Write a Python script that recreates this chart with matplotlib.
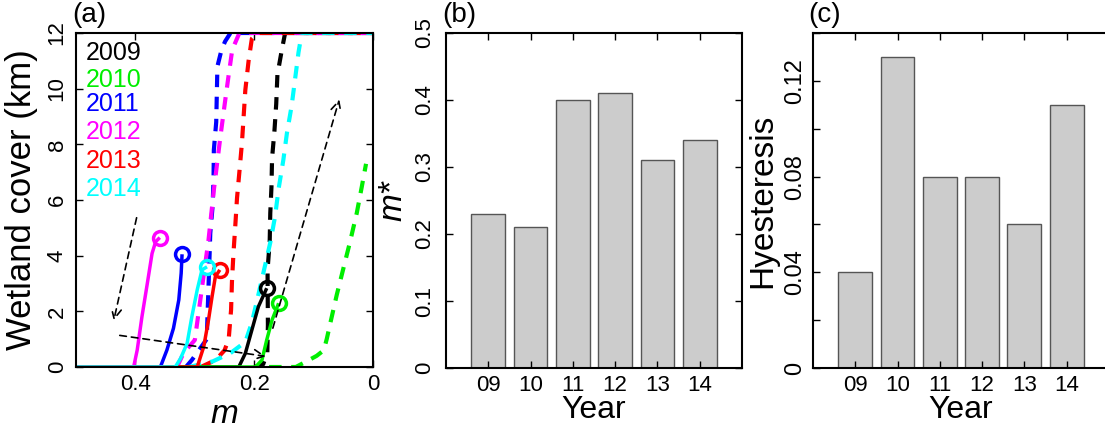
import numpy as np
import matplotlib
matplotlib.use("Agg")
import matplotlib.pyplot as plt

plt.rcParams['font.family'] = ['Liberation Sans', 'DejaVu Sans']
plt.rcParams['xtick.direction'] = 'in'
plt.rcParams['ytick.direction'] = 'in'

# ---- panel (a): wetland cover vs m ----
years = ['2009', '2010', '2011', '2012', '2013', '2014']
colors = ['#000000', '#00ee00', '#0000ff', '#ff00ff', '#ff0000', '#00ffff']

# forward (solid) branches, m then cover
solid_m = {
    '2009': [0.5, 0.226, 0.215, 0.204, 0.193, 0.179],
    '2010': [0.5, 0.198, 0.187, 0.179, 0.170, 0.159],
    '2011': [0.5, 0.358, 0.347, 0.336, 0.327, 0.323, 0.3215],
    '2012': [0.5, 0.403, 0.397, 0.389, 0.380, 0.372, 0.366, 0.359],
    '2013': [0.5, 0.296, 0.285, 0.277, 0.271, 0.2655, 0.258],
    '2014': [0.5, 0.333, 0.324, 0.313, 0.305, 0.296, 0.288, 0.2795],
}
solid_w = {
    '2009': [0, 0, 0.49, 1.33, 2.17, 2.83],
    '2010': [0, 0, 0.25, 0.97, 1.69, 2.29],
    '2011': [0, 0, 0.61, 1.39, 2.41, 3.37, 4.05],
    '2012': [0, 0, 0.61, 1.81, 3.0, 4.08, 4.5, 4.65],
    '2013': [0, 0, 0.73, 1.69, 2.53, 3.24, 3.49],
    '2014': [0, 0, 0.31, 0.85, 1.81, 2.77, 3.49, 3.60],
}

# backward (dashed) branches
dash_m = {
    '2009': [0.20, 0.185, 0.178, 0.177, 0.1776, 0.174, 0.173, 0.171, 0.170,
             0.166, 0.163, 0.161, 0.1535, 0.148, 0.0],
    '2010': [0.175, 0.13, 0.114, 0.095, 0.083, 0.078, 0.072, 0.061, 0.0387,
             0.0274, 0.019, 0.0118],
    '2011': [0.315, 0.305, 0.28, 0.276, 0.274, 0.270, 0.2685, 0.268, 0.264,
             0.263, 0.262, 0.255, 0.249, 0.240, 0.0],
    '2012': [0.33, 0.319, 0.30, 0.277, 0.268, 0.257, 0.249, 0.243, 0.237,
             0.225, 0.0],
    '2013': [0.29, 0.265, 0.25, 0.243, 0.239, 0.2375, 0.235, 0.232, 0.229,
             0.2247, 0.2207, 0.215, 0.2095, 0.204, 0.195, 0.0],
    '2014': [0.31, 0.27, 0.24, 0.215, 0.204, 0.193, 0.173, 0.165, 0.159,
             0.151, 0.145, 0.137, 0.1255, 0.12, 0.0],
}
dash_w = {
    '2009': [0, 0.1, 0.5, 1.5, 3.49, 4.49, 5.53, 6.47, 7.5, 8.48, 9.45, 10.5,
             11.4, 12, 12],
    '2010': [0, 0, 0.18, 0.4, 0.6, 1.0, 1.57, 2.6, 4.5, 5.53, 6.47, 7.3],
    '2011': [0, 0.25, 1.0, 3.5, 4.8, 5.8, 6.8, 7.8, 8.8, 9.8, 10.8, 11.4,
             11.7, 12, 12],
    '2012': [0, 0.5, 0.97, 4.56, 6.36, 8.27, 9.56, 10.5, 11.4, 12, 12],
    '2013': [0, 0.25, 0.6, 1.0, 2.05, 3.07, 4.08, 5.04, 6.07, 7.08, 8.05,
             9.95, 11.0, 11.8, 12, 12],
    '2014': [0, 0.2, 0.5, 0.9, 1.6, 2.6, 4.47, 5.4, 6.4, 7.44, 8.4, 9.39,
             11.3, 12, 12],
}

# ---- panels (b), (c) ----
year_labels = ['09', '10', '11', '12', '13', '14']
m_star = [0.23, 0.21, 0.40, 0.41, 0.31, 0.34]
hysteresis = [0.04, 0.13, 0.08, 0.08, 0.06, 0.11]

fig = plt.figure(figsize=(11.05, 4.33), dpi=100)
ax1 = fig.add_axes([0.0688, 0.1524, 0.2688, 0.7714])
ax2 = fig.add_axes([0.4036, 0.1501, 0.2679, 0.7737])
ax3 = fig.add_axes([0.7357, 0.1501, 0.2679, 0.7737])

for y, c in zip(years, colors):
    ax1.plot(dash_m[y], dash_w[y], color=c, lw=3, linestyle=(0, (3, 2.3)))
for y, c in zip(years, colors):
    ax1.plot(solid_m[y], solid_w[y], color=c, lw=2.5, solid_capstyle='butt')
    ax1.plot(solid_m[y][-1], solid_w[y][-1], 'o', mfc='none', mec=c,
             ms=10, mew=2.5)

arrow_kw = dict(arrowstyle='->', color='k', lw=1.2, linestyle=(0, (4, 3)),
                mutation_scale=18)
ax1.annotate('', xy=(0.4375, 1.57), xytext=(0.397, 5.46), arrowprops=arrow_kw)
ax1.annotate('', xy=(0.176, 0.37), xytext=(0.431, 1.15), arrowprops=arrow_kw)
ax1.annotate('', xy=(0.0555, 9.71), xytext=(0.17, 1.3), arrowprops=arrow_kw)

ax1.set_xlim(0.5, 0)
ax1.set_ylim(0, 12)
ax1.set_xticks([0.4, 0.2, 0])
ax1.set_xticklabels(['0.4', '0.2', '0'])
ax1.set_yticks(range(0, 13, 2))
ax1.set_xlabel('m', fontsize=24, style='italic', labelpad=3)
ax1.set_ylabel('Wetland cover (km)', fontsize=25, labelpad=6)

leg_y = [0.939, 0.859, 0.786, 0.705, 0.617, 0.533]
for y, c, ty in zip(years, colors, leg_y):
    ax1.text(0.034, ty, y, color=c, fontsize=18, transform=ax1.transAxes,
             va='center', ha='left')

x = np.arange(1, 7)
ax2.bar(x, m_star, width=0.8, color='#cccccc', edgecolor='#555555', lw=1)
ax2.set_xlim(0, 7)
ax2.set_ylim(0, 0.5)
ax2.set_yticks([0, 0.1, 0.2, 0.3, 0.4, 0.5])
ax2.set_yticklabels(['0', '0.1', '0.2', '0.3', '0.4', '0.5'])
ax2.set_ylabel('m*', fontsize=24, style='italic', labelpad=4)

ax3.bar(x, hysteresis, width=0.8, color='#cccccc', edgecolor='#555555', lw=1)
ax3.set_xlim(0, 7)
ax3.set_ylim(0, 0.14)
ax3.set_yticks([0, 0.04, 0.08, 0.12])
ax3.set_yticklabels(['0', '0.04', '0.08', '0.12'])
ax3.set_yticks([0.02, 0.06, 0.10, 0.14], minor=True)
ax3.set_ylabel('Hyesteresis', fontsize=24, labelpad=4)

for ax in (ax2, ax3):
    ax.set_xticks(x)
    ax.set_xticklabels(year_labels)
    ax.set_xlabel('Year', fontsize=23, labelpad=-1)

for ax in (ax1, ax2, ax3):
    ax.tick_params(which='both', top=True, right=True, labelsize=16,
                   length=5, width=1)
    ax.tick_params(axis='x', pad=5)
    ax.tick_params(axis='y', pad=6)
    for s in ax.spines.values():
        s.set_linewidth(1.5)
ax2.tick_params(axis='y', pad=8)
ax3.tick_params(axis='y', labelsize=17, pad=5)
# right spine of (c) falls off the page in the original
ax3.tick_params(which='both', right=False)
for ax in (ax1, ax2, ax3):
    for lab in ax.get_yticklabels():
        lab.set_rotation(90)
        lab.set_va('center')

fig.text(0.065, 0.965, '(a)', fontsize=20, va='center')
fig.text(0.400, 0.965, '(b)', fontsize=20, va='center')
fig.text(0.731, 0.965, '(c)', fontsize=20, va='center')

fig.savefig('out.png', dpi=100)
